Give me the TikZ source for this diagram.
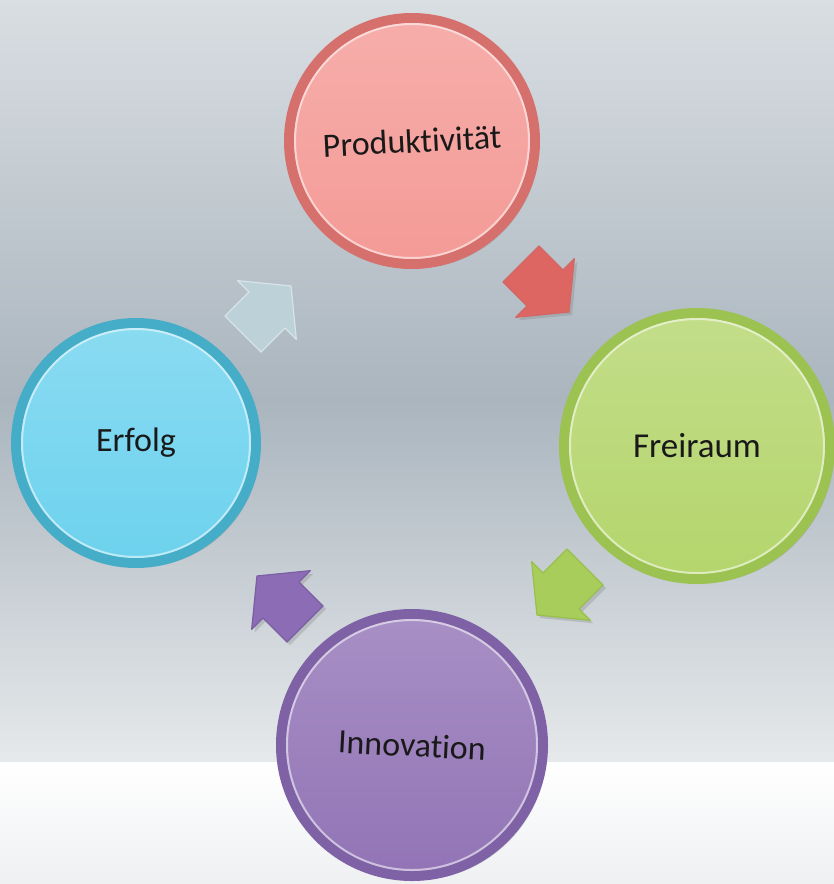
\documentclass[tikz,border=0pt]{standalone}
\usepackage{fontspec}
\setmainfont{Carlito}[Ligatures=NoCommon]
\usepackage{xcolor}
\usepackage{tikz}
\usetikzlibrary{shadows}

\definecolor{bgtop}{HTML}{D9DEE2}
\definecolor{bgmid}{HTML}{AAB5BE}
\definecolor{bglow}{HTML}{E6E9EB}
\definecolor{bgband}{HTML}{EEF0F2}
\definecolor{prodc}{HTML}{F49A96}
\definecolor{prodr}{HTML}{D06865}
\definecolor{proda}{HTML}{DE6662}
\definecolor{freic}{HTML}{B4D56C}
\definecolor{freir}{HTML}{98BF4C}
\definecolor{freia}{HTML}{A8CD5A}
\definecolor{innoc}{HTML}{9274B6}
\definecolor{innor}{HTML}{7A5FA2}
\definecolor{innoa}{HTML}{8C6CB4}
\definecolor{erfc}{HTML}{6DD2EE}
\definecolor{erfr}{HTML}{3FA6C2}
\definecolor{erfa}{HTML}{BDD1D9}

\begin{document}
\begin{tikzpicture}[x=1pt,y=-1pt,
		bubble/.style 2 args={circle, inner sep=0pt, minimum size=#2,
			draw=#1r!85!#1c, line width=10pt, top color=#1c!80!white, bottom color=#1c,
			drop shadow={shadow xshift=4pt, shadow yshift=-4pt, opacity=.35},
			font=\fontsize{34}{40}\selectfont, text=black!90},
		shine/.style={draw=white, opacity=.55, line width=2pt},
		flow/.style={fill=#1a, draw=#1r, line width=1.2pt, line join=round,
			drop shadow={shadow xshift=3pt, shadow yshift=-3pt, opacity=.3}},
		ghost/.style={fill=erfa, draw=erfa!60!white, line width=1.2pt, line join=round}]
		\useasboundingbox (0,0) rectangle (834,884);
		\shade[top color=bgtop, bottom color=bgmid] (0,0) rectangle (834,400);
		\shade[top color=bgmid, bottom color=bglow] (0,400) rectangle (834,762);
		\shade[top color=white, bottom color=bgband] (0,762) rectangle (834,884);

		\node[bubble={prod}{246pt}, rotate=3] (prod) at (412,141) {Produktivität};
		\node[bubble={frei}{266pt}, font=\fontsize{35}{40}\selectfont] (frei) at (697,446) {Freiraum};
		\node[bubble={inno}{262pt}, rotate=-3] (inno) at (412,745) {Innovation};
		\node[bubble={erf}{240pt}] (erf) at (136,443) {Erfolg};

		\draw[shine] (prod.center) circle[radius=117pt];
		\draw[shine] (frei.center) circle[radius=127pt];
		\draw[shine] (inno.center) circle[radius=125pt];
		\draw[shine] (erf.center) circle[radius=114pt];

		\foreach \c/\x/\y/\a in {prod/545/288/-45, frei/561/591/-135, inno/281/600/135}
			\draw[flow=\c, shift={(\x,\y)}, rotate=\a] (-34,-25.5) -- (0,-25.5) -- (0,-41.5)
			-- (34,0) -- (0,41.5) -- (0,25.5) -- (-34,25.5) -- cycle;
		\draw[ghost, shift={(267,310)}, rotate=45] (-34,-25.5) -- (0,-25.5) -- (0,-41.5)
			-- (34,0) -- (0,41.5) -- (0,25.5) -- (-34,25.5) -- cycle;
\end{tikzpicture}
\end{document}
